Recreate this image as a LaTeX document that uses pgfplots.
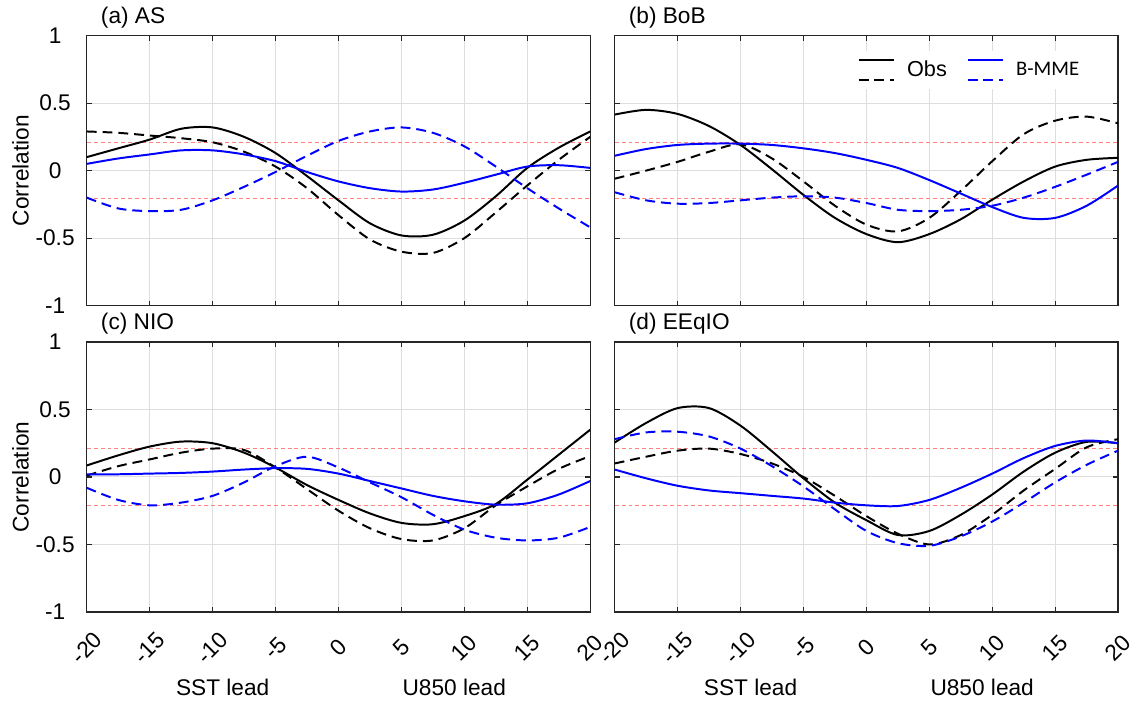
\documentclass[border=0pt]{standalone}
\usepackage{fontspec}
\setmainfont{Liberation Sans}
\newfontfamily\calfont{Carlito}
\usepackage{pgfplots}
\usepackage{pgfplotstable}
\pgfplotsset{compat=1.18}
\usepgfplotslibrary{groupplots}

\definecolor{mblue}{RGB}{0,0,255}
\definecolor{thr}{RGB}{255,130,130}
\definecolor{gridc}{RGB}{222,222,222}
\definecolor{axc}{RGB}{38,38,38}

% columns: lag, Obs solid, Obs dashed, B-MME solid, B-MME dashed
\pgfplotstableread{
x     os     od     ms      md
-20   0.10   0.29   0.05   -0.20
-17.5 0.165  0.28   0.09   -0.28
-15   0.23   0.26   0.12   -0.30
-12.5 0.31   0.24   0.15   -0.29
-10   0.32   0.21   0.15   -0.22
-7.5  0.25   0.14   0.12   -0.12
-5    0.13   0.03   0.07   -0.01
-2.5 -0.04  -0.13  -0.01    0.11
0    -0.22  -0.33  -0.08    0.22
2.5  -0.39  -0.51  -0.13    0.29
5    -0.48  -0.60  -0.155   0.32
7.5  -0.475 -0.61  -0.14    0.28
10   -0.37  -0.50  -0.09    0.18
12.5 -0.19  -0.31  -0.03    0.03
15    0.02  -0.11   0.03   -0.13
17.5  0.17   0.08   0.04   -0.28
20    0.29   0.25   0.02   -0.42
}\tabA
\pgfplotstableread{
x     os     od     ms      md
-20   0.415 -0.06   0.11   -0.16
-17.5 0.45   0.00   0.16   -0.22
-15   0.42   0.065  0.19   -0.245
-12.5 0.33   0.14   0.20   -0.24
-10   0.19   0.195  0.20   -0.22
-7.5  0.01   0.09   0.19   -0.20
-5   -0.18  -0.08   0.165  -0.19
-2.5 -0.35  -0.26   0.13   -0.20
0    -0.47  -0.40   0.08   -0.24
2.5  -0.53  -0.45   0.02   -0.29
5    -0.47  -0.35  -0.07   -0.30
7.5  -0.36  -0.15  -0.17   -0.29
10   -0.215  0.07  -0.27   -0.26
12.5 -0.08   0.27  -0.35   -0.20
15    0.03   0.37  -0.35   -0.12
17.5  0.08   0.40  -0.26   -0.03
20    0.095  0.35  -0.11    0.065
}\tabB
\pgfplotstableread{
x     os     od     ms      md
-20   0.085  0.01   0.02   -0.08
-17.5 0.16   0.08   0.02   -0.17
-15   0.225  0.13   0.025  -0.21
-12.5 0.262  0.18   0.03   -0.19
-10   0.25   0.21   0.04   -0.14
-7.5  0.18   0.20   0.055  -0.04
-5    0.07   0.07   0.065   0.08
-2.5 -0.06  -0.09   0.06    0.15
0    -0.17  -0.25   0.025   0.07
2.5  -0.27  -0.38  -0.03   -0.04
5    -0.34  -0.46  -0.085  -0.15
7.5  -0.35  -0.47  -0.14   -0.28
10   -0.29  -0.38  -0.18   -0.39
12.5 -0.20  -0.21  -0.205  -0.45
15   -0.02  -0.07  -0.195  -0.47
17.5  0.165  0.06  -0.13   -0.45
20    0.35   0.155 -0.03   -0.37
}\tabC
\pgfplotstableread{
x     os     od     ms      md
-20   0.255  0.10   0.055   0.28
-17.5 0.40   0.15  -0.01    0.33
-15   0.51   0.195 -0.065   0.335
-12.5 0.51   0.21  -0.10    0.30
-10   0.38   0.17  -0.12    0.21
-7.5  0.19   0.10  -0.14    0.08
-5   -0.01   0.00  -0.16   -0.07
-2.5 -0.19  -0.14  -0.19   -0.24
0    -0.32  -0.29  -0.21   -0.40
2.5  -0.43  -0.42  -0.215  -0.49
5    -0.40  -0.50  -0.17   -0.51
7.5  -0.28  -0.43  -0.08   -0.44
10   -0.13  -0.28   0.025  -0.33
12.5  0.04  -0.10   0.14   -0.19
15    0.18   0.06   0.23   -0.04
17.5  0.26   0.22   0.27    0.09
20    0.25   0.28   0.25    0.195
}\tabD

\pgfplotsset{
 obss/.style={black,line width=1bp,smooth,no markers},
 obsd/.style={black,line width=1bp,smooth,no markers,dash pattern=on 5bp off 3bp},
 mmes/.style={mblue,line width=1bp,smooth,no markers},
 mmed/.style={mblue,line width=1bp,smooth,no markers,dash pattern=on 5bp off 3bp},
 thrline/.style={thr,line width=0.5bp,dash pattern=on 2bp off 1.5bp,forget plot},
 obsleg/.style={legend image code/.code={
   \draw[black,line width=1bp] (0bp,5bp) -- (18bp,5bp);
   \draw[black,line width=1bp,dash pattern=on 5bp off 3bp] (0bp,-5bp) -- (18bp,-5bp);}},
 mmeleg/.style={legend image code/.code={
   \draw[mblue,line width=1bp] (0bp,5bp) -- (18bp,5bp);
   \draw[mblue,line width=1bp,dash pattern=on 5bp off 3bp] (0bp,-5bp) -- (18bp,-5bp);}},
}

\newcommand{\panel}[1]{%
 \addplot[thrline] coordinates {(-20,0.21) (20,0.21)};
 \addplot[thrline] coordinates {(-20,-0.21) (20,-0.21)};
 \addplot[obss,forget plot] table[x=x,y=os]{#1};
 \addplot[obsd,forget plot] table[x=x,y=od]{#1};
 \addplot[mmes,forget plot] table[x=x,y=ms]{#1};
 \addplot[mmed,forget plot] table[x=x,y=md]{#1};
}

\begin{document}
\begin{tikzpicture}
\begin{groupplot}[
 group style={group size=2 by 2,horizontal sep=12.35bp,vertical sep=18.35bp,group name=gp},
 width=254.5bp,height=136.5bp,scale only axis,
 xmin=-20,xmax=20,ymin=-1,ymax=1,
 xtick={-20,-15,...,20},ytick={-1,-0.5,0,0.5,1},
 grid=major,major grid style={gridc,line width=0.5bp},
 axis line style={axc,line width=0.7bp},
 tick align=inside,major tick length=2.5bp,tick style={axc,line width=0.6bp},
 tick label style={font=\fontsize{11.5}{13}\selectfont},
 label style={font=\fontsize{11.5}{13}\selectfont},
 ylabel style={yshift=-3.5bp},
 title style={at={(0,1)},anchor=south west,xshift=7bp,yshift=-2.5bp,inner sep=0pt,
   font=\fontsize{11.5}{13}\selectfont},
 yticklabel style={anchor=center},yticklabel shift=16bp,
 xticklabel style={rotate=45,anchor=center},xticklabel shift=18.2bp,
 clip mode=individual,
]
\nextgroupplot[title={(a) AS},xticklabels={},
 yticklabels={-1,-0.5,0,0.5,1},ylabel={Correlation}]
\panel{\tabA}

\nextgroupplot[title={(b) BoB},xticklabels={},yticklabels={},
 legend style={draw=none,fill=white,at={(rel axis cs:0.47,0.872)},anchor=west,
   legend columns=2,inner xsep=3bp,inner ysep=3bp,
   nodes={inner xsep=6bp},
   /tikz/every even column/.append style={column sep=4bp}},
 legend cell align=left]
\addlegendimage{obsleg}
\addlegendentry{\fontsize{11}{12}\selectfont Obs}
\addlegendimage{mmeleg}
\addlegendentry{\calfont\fontsize{10.5}{12}\selectfont B-MME}
\panel{\tabB}

\nextgroupplot[title={(c) NIO},
 xticklabels={-20,-15,-10,-5,0,5,10,15,20},
 yticklabels={-1,-0.5,0,0.5,1},ylabel={Correlation}]
\panel{\tabC}
\node[anchor=base,font=\fontsize{11.5}{13}\selectfont] at (rel axis cs:0.27,0) [yshift=-42bp] {SST lead};
\node[anchor=base,font=\fontsize{11.5}{13}\selectfont] at (rel axis cs:0.73,0) [yshift=-42bp] {U850 lead};

\nextgroupplot[title={(d) EEqIO},
 xticklabels={-20,-15,-10,-5,0,5,10,15,20},yticklabels={}]
\panel{\tabD}
\node[anchor=base,font=\fontsize{11.5}{13}\selectfont] at (rel axis cs:0.27,0) [yshift=-42bp] {SST lead};
\node[anchor=base,font=\fontsize{11.5}{13}\selectfont] at (rel axis cs:0.73,0) [yshift=-42bp] {U850 lead};
\end{groupplot}
\path ([xshift=-43.85bp,yshift=18bp]gp c1r1.north west) rectangle ([xshift=5.65bp,yshift=-40.65bp]gp c2r2.south east);
\end{tikzpicture}
\end{document}
